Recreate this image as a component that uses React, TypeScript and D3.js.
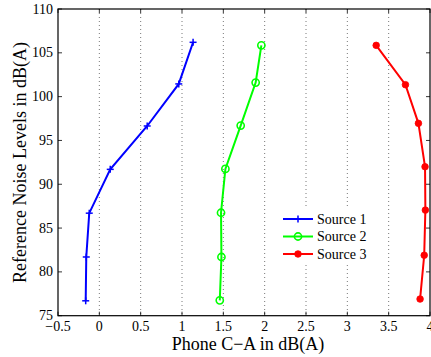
import React from "react";
import * as d3 from "d3";

const xTicks = [-0.5, 0, 0.5, 1, 1.5, 2, 2.5, 3, 3.5, 4];
const xTickLabels = ["\u22120.5", "0", "0.5", "1", "1.5", "2", "2.5", "3", "3.5", "4"];
const yTicks = [75, 80, 85, 90, 95, 100, 105, 110];

const source1X = [-0.165, -0.158, -0.122, 0.132, 0.579, 0.961, 1.134];
const source1Y = [76.7, 81.7, 86.7, 91.7, 96.65, 101.45, 106.2];
const source2X = [1.457, 1.477, 1.472, 1.525, 1.71, 1.891, 1.96];
const source2Y = [76.75, 81.7, 86.75, 91.75, 96.7, 101.6, 105.85];
const source3X = [3.88, 3.93, 3.944, 3.94, 3.86, 3.703, 3.349];
const source3Y = [76.9, 81.9, 87.05, 92.0, 96.95, 101.36, 105.85];

const seriesNames = ["Source 1", "Source 2", "Source 3"];
const seriesColors = ["#0000ff", "#00ff00", "#ff0000"];
const seriesX = [source1X, source2X, source3X];
const seriesY = [source1Y, source2Y, source3Y];
const markers = ["plus", "circle", "dot"];

const W = 431, H = 357;
const L = 58, R = 430, T = 9, B = 315.7;

function Marker({ type, x, y, color }: { type: string; x: number; y: number; color: string }) {
  if (type === "plus")
    return (
      <g stroke={color} strokeWidth={1.5}>
        <line x1={x - 3.5} x2={x + 3.5} y1={y} y2={y} />
        <line x1={x} x2={x} y1={y - 3.5} y2={y + 3.5} />
      </g>
    );
  if (type === "circle")
    return <circle cx={x} cy={y} r={3.6} fill="none" stroke={color} strokeWidth={1.6} />;
  return <circle cx={x} cy={y} r={3.3} fill={color} stroke={color} strokeWidth={0.8} />;
}

export default function App() {
  const x = d3.scaleLinear().domain([-0.5, 4]).range([L, R]);
  const y = d3.scaleLinear().domain([75, 110]).range([B, T]);
  const line = d3
    .line<[number, number]>()
    .x((d) => x(d[0]))
    .y((d) => y(d[1]));
  const font = '"Liberation Serif", "Times New Roman", serif';
  const legX = 283, legY0 = 219, legDy = 17.5;
  return (
    <svg
      width={W}
      height={H}
      style={{ position: "absolute", left: 0, top: 0, background: "#fff", fontFamily: font }}
    >
      <rect x={0} y={0} width={W} height={H} fill="#fff" />
      {xTicks.slice(1, -1).map((t) => (
        <line
          key={"g" + t}
          x1={x(t)}
          x2={x(t)}
          y1={T}
          y2={B}
          stroke="#555"
          strokeWidth={0.8}
          strokeDasharray="1,3"
        />
      ))}
      {/* legend background */}
      <rect x={279} y={209} width={90} height={53} fill="#fff" />
      {seriesNames.map((n, i) => {
        const pts = seriesX[i].map((v, j) => [v, seriesY[i][j]] as [number, number]);
        return (
          <g key={n}>
            <path d={line(pts) || ""} fill="none" stroke={seriesColors[i]} strokeWidth={2} />
            {pts.map((p, j) => (
              <Marker key={j} type={markers[i]} x={x(p[0])} y={y(p[1])} color={seriesColors[i]} />
            ))}
          </g>
        );
      })}
      {/* axes box */}
      <rect x={L} y={T} width={R - L} height={B - T} fill="none" stroke="#000" strokeWidth={1.2} />
      {xTicks.map((t, i) => (
        <g key={"xt" + t}>
          <line x1={x(t)} x2={x(t)} y1={B} y2={B - 4} stroke="#000" strokeWidth={0.8} />
          <line x1={x(t)} x2={x(t)} y1={T} y2={T + 4} stroke="#000" strokeWidth={0.8} />
          <text x={x(t)} y={331} textAnchor="middle" fontSize={14} fill="#000" fontFamily={font}>
            {xTickLabels[i]}
          </text>
        </g>
      ))}
      {yTicks.map((t) => (
        <g key={"yt" + t}>
          <line x1={L} x2={L + 4} y1={y(t)} y2={y(t)} stroke="#000" strokeWidth={0.8} />
          <line x1={R} x2={R - 4} y1={y(t)} y2={y(t)} stroke="#000" strokeWidth={0.8} />
          <text x={53} y={y(t) + 4.5} textAnchor="end" fontSize={14} fill="#000" fontFamily={font}>
            {t}
          </text>
        </g>
      ))}
      <text x={248} y={350} textAnchor="middle" fontSize={18} fill="#000" fontFamily={font}>
        Phone C{"\u2212"}A in dB(A)
      </text>
      <text
        x={0}
        y={0}
        transform={`translate(25.5,162.5) rotate(-90)`}
        textAnchor="middle"
        fontSize={18}
        fill="#000"
        fontFamily={font}
      >
        Reference Noise Levels in dB(A)
      </text>
      {seriesNames.map((n, i) => (
        <g key={"leg" + n}>
          <line
            x1={legX}
            x2={legX + 30}
            y1={legY0 + i * legDy}
            y2={legY0 + i * legDy}
            stroke={seriesColors[i]}
            strokeWidth={2}
          />
          <Marker type={markers[i]} x={legX + 15} y={legY0 + i * legDy} color={seriesColors[i]} />
          <text x={legX + 34} y={legY0 + i * legDy + 4.5} fontSize={14} fill="#000" fontFamily={font}>
            {n}
          </text>
        </g>
      ))}
    </svg>
  );
}
